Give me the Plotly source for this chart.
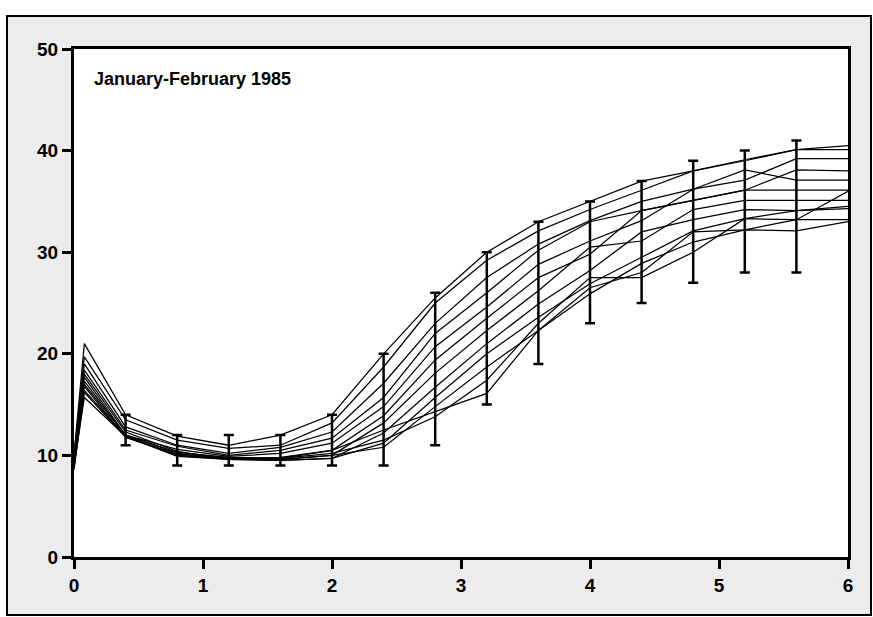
import plotly.graph_objects as go

# ---- data ----
x_times = [0, 0.08, 0.4, 0.8, 1.2, 1.6, 2.0, 2.4, 2.8, 3.2, 3.6, 4.0, 4.4, 4.8, 5.2, 5.6, 6.0]

series_1 = [10.0, 21.0, 14.0, 11.9, 11.0, 12.0, 14.0, 20.0, 25.5, 30.0, 33.0, 35.0, 37.0, 38.0, 39.0, 40.1, 40.1]
series_2 = [10.0, 19.7, 13.5, 11.5, 10.7, 11.0, 13.2, 18.7, 25.0, 29.2, 32.1, 34.2, 36.1, 38.0, 39.1, 40.1, 40.5]
series_3 = [9.8, 19.0, 12.8, 11.0, 10.2, 10.8, 12.3, 17.1, 23.0, 27.5, 30.8, 33.1, 35.0, 36.2, 37.1, 39.2, 39.2]
series_4 = [9.6, 18.4, 12.5, 10.9, 10.0, 10.5, 11.7, 15.7, 22.0, 26.0, 30.2, 33.0, 34.1, 35.1, 36.1, 38.1, 38.0]
series_5 = [9.5, 17.7, 12.0, 10.6, 9.9, 10.2, 11.2, 14.8, 20.7, 24.6, 28.8, 31.1, 33.1, 36.2, 38.1, 37.1, 37.1]
series_6 = [9.3, 17.0, 12.0, 10.3, 9.8, 9.7, 10.5, 13.9, 19.4, 23.5, 27.5, 29.8, 34.1, 35.1, 36.1, 36.1, 36.1]
series_7 = [9.2, 16.4, 11.9, 10.0, 9.7, 9.6, 10.0, 13.2, 18.1, 22.3, 26.2, 30.5, 31.1, 34.2, 35.1, 35.1, 35.1]
series_8 = [9.0, 15.7, 11.9, 9.9, 9.6, 9.5, 9.7, 12.2, 16.7, 21.0, 24.9, 28.2, 32.0, 33.2, 34.2, 34.1, 34.3]
series_9 = [8.9, 18.0, 12.3, 10.4, 9.6, 9.5, 9.7, 11.2, 15.7, 20.0, 23.6, 26.9, 29.5, 32.1, 33.3, 33.2, 33.2]
series_10 = [8.8, 17.3, 12.0, 10.2, 9.7, 9.6, 10.0, 10.8, 14.8, 18.7, 22.3, 25.9, 28.9, 31.0, 32.2, 32.1, 33.0]
series_11 = [8.7, 16.8, 11.8, 10.1, 9.8, 9.7, 10.2, 11.5, 13.8, 17.4, 23.0, 27.5, 27.5, 30.0, 33.3, 34.1, 34.5]
series_12 = [8.6, 16.2, 11.8, 10.0, 9.6, 9.8, 10.5, 12.5, 14.3, 16.1, 22.3, 26.5, 28.0, 32.0, 32.2, 33.2, 36.0]

all_series = [series_1, series_2, series_3, series_4, series_5, series_6,
              series_7, series_8, series_9, series_10, series_11, series_12]

err_x = [0.4, 0.8, 1.2, 1.6, 2.0, 2.4, 2.8, 3.2, 3.6, 4.0, 4.4, 4.8, 5.2, 5.6]
err_high = [14, 12, 12, 12, 14, 20, 26, 30, 33, 35, 37, 39, 40, 41]
err_low = [11, 9, 9, 9, 9, 9, 11, 15, 19, 23, 25, 27, 28, 28]

x_ticks = [0, 1, 2, 3, 4, 5, 6]
y_ticks = [0, 10, 20, 30, 40, 50]
title_text = "January-February 1985"

# ---- figure ----
fig = go.Figure()
for s in all_series:
    fig.add_trace(go.Scatter(x=x_times, y=s, mode="lines",
                             line=dict(color="black", width=1.25),
                             showlegend=False, hoverinfo="skip"))

fig.add_trace(go.Scatter(
    x=err_x, y=err_low, mode="markers",
    marker=dict(size=1, color="rgba(0,0,0,0)"),
    error_y=dict(type="data", symmetric=False,
                 array=[h - l for h, l in zip(err_high, err_low)],
                 arrayminus=[0] * len(err_low),
                 color="black", thickness=2.5, width=5),
    showlegend=False, hoverinfo="skip"))

# plot area pixel geometry
W, H = 873, 617
L, R, T, B = 74, 25, 49, 60
pw, ph = W - L - R, H - T - B

def px(xp):
    return (xp - L) / pw

def py(yp):
    return (H - B - yp) / ph

gray = "#ececec"
ox0, ox1, oy0, oy1 = 7, 871, 16, 615
shapes = [
    dict(type="rect", xref="paper", yref="paper", x0=px(ox0), x1=px(ox1), y0=py(oy0), y1=1,
         fillcolor=gray, line=dict(width=0), layer="below"),
    dict(type="rect", xref="paper", yref="paper", x0=px(ox0), x1=px(ox1), y0=0, y1=py(oy1),
         fillcolor=gray, line=dict(width=0), layer="below"),
    dict(type="rect", xref="paper", yref="paper", x0=px(ox0), x1=0, y0=0, y1=1,
         fillcolor=gray, line=dict(width=0), layer="below"),
    dict(type="rect", xref="paper", yref="paper", x0=1, x1=px(ox1), y0=0, y1=1,
         fillcolor=gray, line=dict(width=0), layer="below"),
    dict(type="rect", xref="paper", yref="paper", x0=px(ox0), x1=px(ox1), y0=py(oy1), y1=py(oy0),
         fillcolor="rgba(0,0,0,0)", line=dict(color="black", width=2), layer="below"),
]

tickfont = dict(family="Liberation Sans, Arial, sans-serif", size=19, color="black")

fig.update_layout(
    width=W, height=H,
    margin=dict(l=L, r=R, t=T, b=B),
    paper_bgcolor="white",
    plot_bgcolor="white",
    shapes=shapes,
    xaxis=dict(range=[0, 6], tickvals=x_ticks, ticktext=[f"<b>{v}</b>" for v in x_ticks],
               showgrid=False, zeroline=False, showline=True, linecolor="black",
               linewidth=3, mirror=True, ticks="outside", ticklen=9, tickwidth=2.5,
               tickcolor="black", tickfont=tickfont),
    yaxis=dict(range=[0, 50], tickvals=y_ticks, ticktext=[f"<b>{v}</b>" for v in y_ticks],
               showgrid=False, zeroline=False, showline=True, linecolor="black",
               linewidth=3, mirror=True, ticks="outside", ticklen=9, tickwidth=2.5,
               tickcolor="black", tickfont=tickfont),
    annotations=[dict(x=0.14, y=47, xref="x", yref="y", text=f"<b>{title_text}</b>",
                      showarrow=False, xanchor="left", yanchor="middle",
                      font=dict(family="Liberation Sans, Arial, sans-serif", size=18, color="black"))],
)

fig.write_html("out.html")
